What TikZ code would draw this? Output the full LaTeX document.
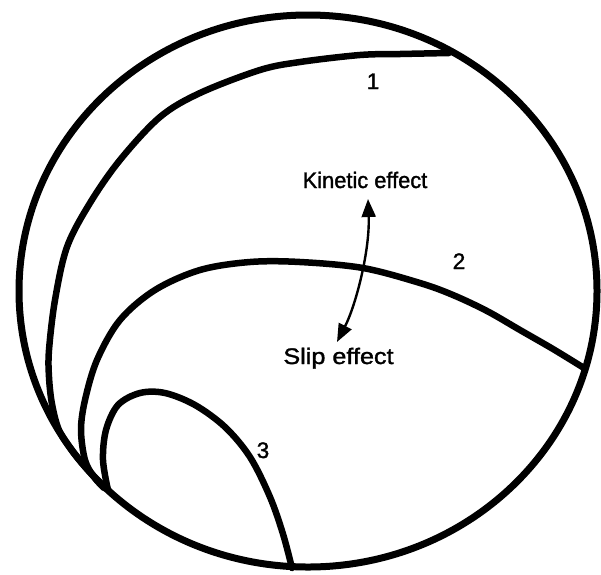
\documentclass[tikz,border=0pt]{standalone}
\usepackage{fontspec}
\setmainfont{Liberation Sans}
\newfontfamily\lblfont{Liberation Sans}[FakeBold=1.4]
\usetikzlibrary{arrows.meta}
\begin{document}
\begin{tikzpicture}[x=1pt,y=-1pt,
  curve/.style={line width=6.5pt,line cap=round,line join=round},
  lbl/.style={font=\lblfont\fontsize{22.5}{26}\selectfont,inner sep=0pt,anchor=base},
  arr/.style={line width=2.4pt,{Triangle[length=18pt,width=14pt]}-{Triangle[length=18pt,width=14pt]}}]
\useasboundingbox (0,0) rectangle (601,574);
% outer circle
\draw[line width=7pt] (308,291) ellipse [x radius=289pt, y radius=276pt];
% curve 1
\draw[curve] plot[smooth,tension=0.55] coordinates {(449,53) (400,54) (360,55) (300,62) (260,70) (200,93) (160,117) (120,160) (90,203) (67,247) (55,300) (49,350) (49,377) (52,404) (59,430) (73,452) (88,470) (104,487)};
% curve 2
\draw[curve] plot[smooth,tension=0.55] coordinates {(584,368) (553,349) (520,330) (487,311) (453,295) (420,283) (363,268) (300,262) (250,262) (200,270) (155,290) (120,320) (97,360) (85,400) (81,430) (85,460) (94,477) (104,488)};
% curve 3
\draw[curve] plot[smooth,tension=0.55] coordinates {(292,568) (283,534) (270,497) (250,457) (225,427) (195,405) (165,393) (140,393) (118,405) (106,430) (103,460) (108,490)};
% labels
\node[lbl] (n1) at (373,89) {1};
\node[lbl] (n2) at (459,269) {2};
\node[lbl] (n3) at (263,458) {3};
\node[lbl] (kin) at (365,188) {\scalebox{0.97}[1]{Kinetic effect}};
\node[lbl] (slip) at (338.5,364) {\scalebox{1.12}[1]{Slip effect}};
\coordinate (kt) at (368,199);
\coordinate (st) at (337,342);
\draw[arr] (st) .. controls (356,305) and (370,250) .. (kt);
\end{tikzpicture}
\end{document}
